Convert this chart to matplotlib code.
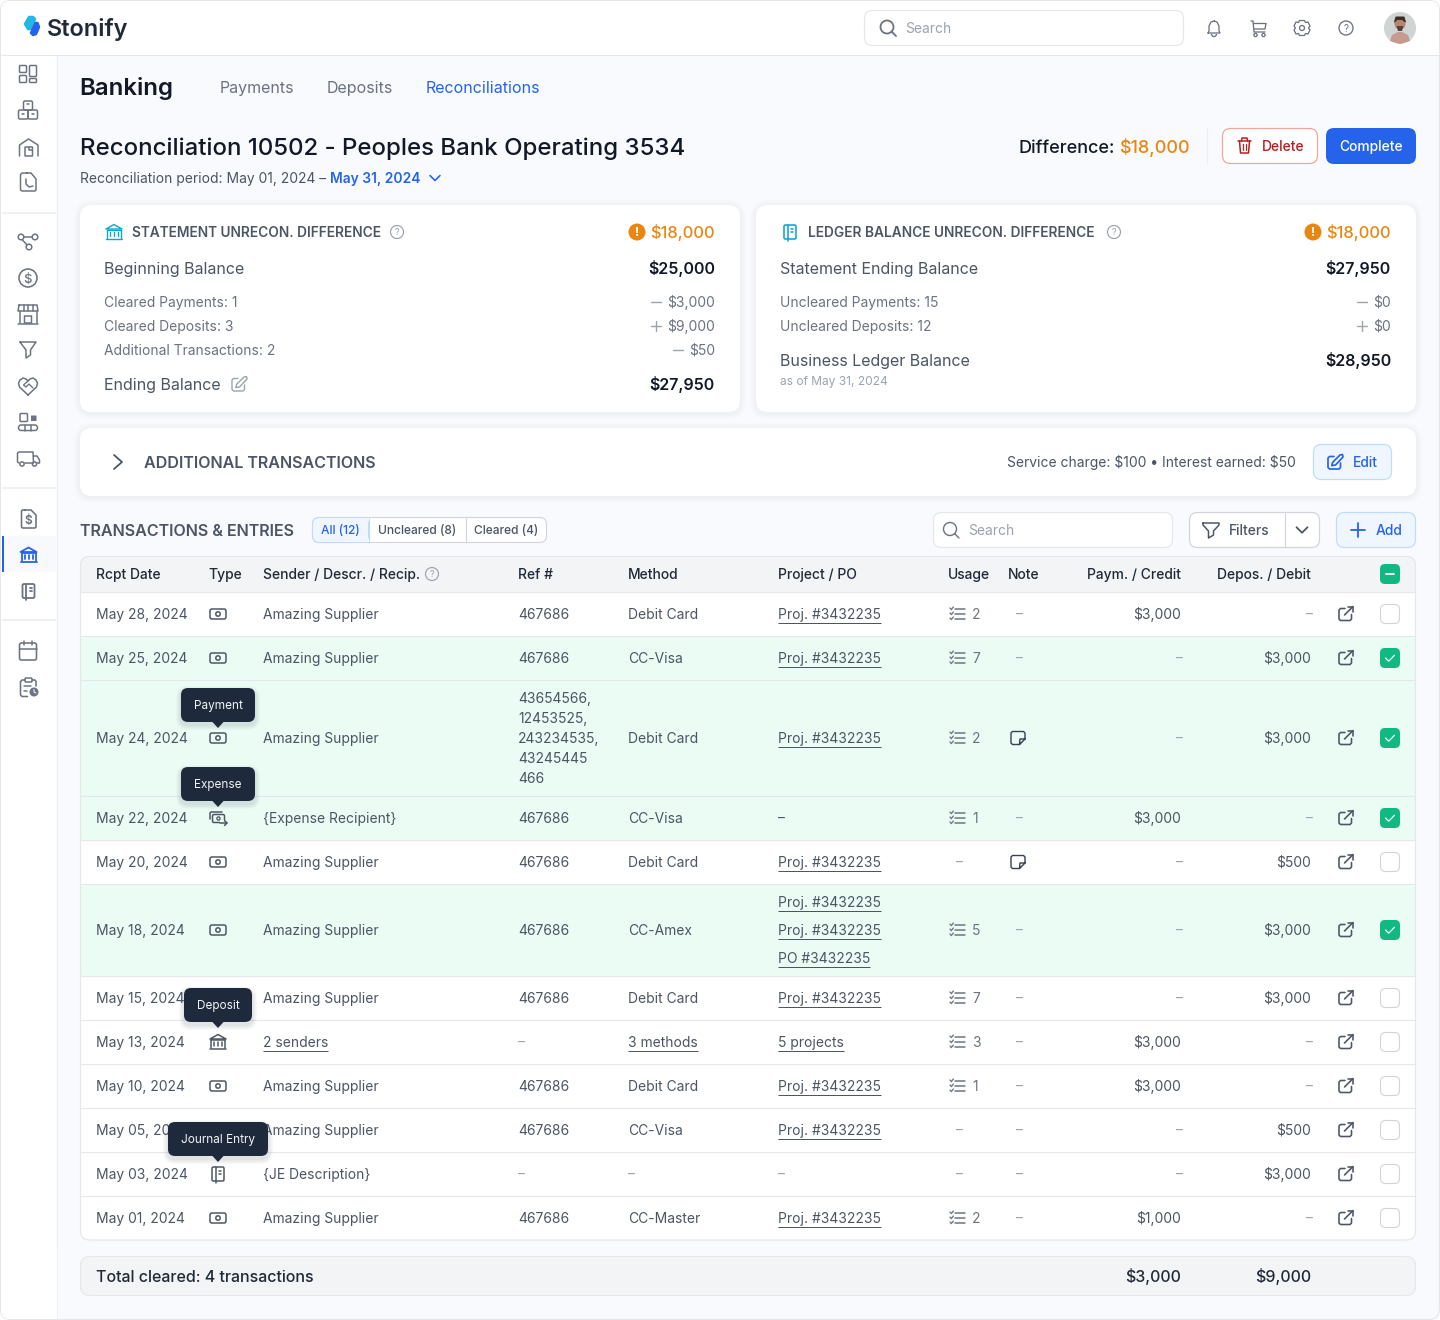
import matplotlib
matplotlib.use("Agg")
import matplotlib.pyplot as plt
from matplotlib.patches import FancyBboxPatch, Circle, Polygon, Arc, Rectangle

# table data
dates = ["May 28, 2024", "May 25, 2024", "May 24, 2024", "May 22, 2024", "May 20, 2024", "May 18, 2024",
         "May 15, 2024", "May 13, 2024", "May 10, 2024", "May 05, 2024", "May 03, 2024", "May 01, 2024"]
types = ["money", "money", "money", "expense", "money", "money", "money", "bank", "money", "money", "journal", "money"]
senders = ["Amazing Supplier", "Amazing Supplier", "Amazing Supplier", "{Expense Recipient}", "Amazing Supplier",
           "Amazing Supplier", "Amazing Supplier", "2 senders", "Amazing Supplier", "Amazing Supplier",
           "{JE Description}", "Amazing Supplier"]
refs = [["467686"], ["467686"], ["43654566,", "12453525,", "243234535,", "43245445", "466"], ["467686"], ["467686"],
        ["467686"], ["467686"], ["–"], ["467686"], ["467686"], ["–"], ["467686"]]
methods = ["Debit Card", "CC-Visa", "Debit Card", "CC-Visa", "Debit Card", "CC-Amex", "Debit Card", "3 methods",
           "Debit Card", "CC-Visa", "–", "CC-Master"]
projects = [["Proj. #3432235"], ["Proj. #3432235"], ["Proj. #3432235"], ["–"], ["Proj. #3432235"],
            ["Proj. #3432235", "Proj. #3432235", "PO #3432235"], ["Proj. #3432235"], ["5 projects"],
            ["Proj. #3432235"], ["Proj. #3432235"], ["–"], ["Proj. #3432235"]]
usage = ["2", "7", "2", "1", "–", "5", "7", "3", "1", "–", "–", "2"]
has_note = [False, False, True, False, True, False, False, False, False, False, False, False]
credits = ["$3,000", "–", "–", "$3,000", "–", "–", "–", "$3,000", "$3,000", "–", "–", "$1,000"]
debits = ["–", "$3,000", "$3,000", "–", "$500", "$3,000", "$3,000", "–", "–", "$500", "$3,000", "–"]
checked = [False, True, True, True, False, True, False, False, False, False, False, False]
headers = ["Rcpt Date", "Type", "Sender / Descr. / Recip.", "Ref #", "Method", "Project / PO", "Usage", "Note"]
tooltips = ["Payment", "Expense", "Deposit", "Journal Entry"]

# colours
INK = "#111827"
DARK = "#1f2937"
BODY = "#4b5563"
MUTED = "#6b7280"
FAINT = "#9ca3af"
LINE = "#e5e7eb"
BLUE = "#2563eb"
ORANGE = "#e8860f"
GREEN = "#10b981"
GREEN_BG = "#ebfcf5"
CYAN = "#0ea5d9"
TIP = "#1e293b"

# autohinted Inter runs a little wide, so the 14px text gets drawn slightly smaller
SZ = 13.85

plt.rcParams["font.family"] = ["Inter", "DejaVu Sans"]

fig = plt.figure(figsize=(14.4, 13.2), dpi=100, facecolor="white")
ax = fig.add_axes([0, 0, 1, 1])
ax.set_xlim(0, 1440)
ax.set_ylim(1320, 0)
ax.axis("off")
renderer = fig.canvas.get_renderer()

order = [10]


def z():
    order[0] += 1
    return order[0]


def box(x0, y0, x1, y1, r=0, fc="none", ec="none", lw=1.0, alpha=None):
    p = FancyBboxPatch((x0, y0), x1 - x0, y1 - y0, boxstyle=f"round,pad=0,rounding_size={r}",
                       fc=fc, ec=ec, lw=lw * 0.72, alpha=alpha, zorder=z())
    ax.add_patch(p)


def shadow(x0, y0, x1, y1, r, steps=5, spread=1.0, drop=2, alpha=0.012):
    for i in range(steps, 0, -1):
        g = i * spread
        box(x0 - g, y0 - g + drop, x1 + g, y1 + g + drop, r + g, fc="#1f2937", alpha=alpha)


def line(pts, c=MUTED, lw=1.5, cap="round"):
    xs = [p[0] for p in pts]
    ys = [p[1] for p in pts]
    ax.plot(xs, ys, color=c, lw=lw * 0.72, solid_capstyle=cap, solid_joinstyle="round", zorder=z())


def circ(x, y, r, fc="none", ec="none", lw=1.5):
    ax.add_patch(Circle((x, y), r, fc=fc, ec=ec, lw=lw * 0.72, zorder=z()))


def poly(pts, fc, ec="none", lw=0):
    ax.add_patch(Polygon(pts, closed=True, fc=fc, ec=ec, lw=lw * 0.72, joinstyle="round", zorder=z()))


def txt(x, y, s, size=SZ, c=BODY, w="normal", ha="left"):
    # y is the visual middle of the lowercase/number line, converted to a baseline
    return ax.text(x, y + size * 0.36, s, fontsize=size * 0.72, color=c, fontweight=w, ha=ha, va="baseline",
                   zorder=z(), parse_math=False)


def linked(x, y, s, size=SZ, c=BODY):
    t = txt(x, y, s, size, c)
    width = t.get_window_extent(renderer).width
    line([(x, y + 8.5), (x + width, y + 8.5)], c=c, lw=1.0, cap="butt")


# icons, all drawn around a centre point
def money_icon(cx, cy, c=BODY):
    box(cx - 8, cy - 5, cx + 8, cy + 5, 2, ec=c, lw=1.5)
    circ(cx, cy, 2.2, ec=c)
    line([(cx - 5, cy), (cx - 4.6, cy)], c)
    line([(cx + 4.6, cy), (cx + 5, cy)], c)


def expense_icon(cx, cy, c=BODY):
    line([(cx - 8, cy + 1), (cx - 8, cy - 5), (cx - 7, cy - 6), (cx + 4, cy - 6)], c)
    box(cx - 5.5, cy - 3.5, cx + 6.5, cy + 4.5, 1.5, ec=c, lw=1.5)
    circ(cx + 0.5, cy + 0.5, 1.6, ec=c, lw=1.3)
    box(cx + 2, cy + 2, cx + 9, cy + 8, 0, fc=GREEN_BG)
    line([(cx + 2, cy + 5), (cx + 9, cy + 5)], c)
    line([(cx + 6.5, cy + 2.5), (cx + 9, cy + 5), (cx + 6.5, cy + 7.5)], c)


def bank_icon(cx, cy, c=BODY, lw=1.5):
    poly([(cx - 8, cy - 3), (cx, cy - 7.5), (cx + 8, cy - 3)], "none", c, lw)
    line([(cx - 7, cy - 2.5), (cx + 7, cy - 2.5)], c, lw)
    for dx in (-4, 0, 4):
        line([(cx + dx, cy), (cx + dx, cy + 4)], c, lw)
    line([(cx - 8, cy + 6.5), (cx + 8, cy + 6.5)], c, lw)
    line([(cx - 7, cy - 2), (cx - 7, cy + 6)], c, lw)
    line([(cx + 7, cy - 2), (cx + 7, cy + 6)], c, lw)


def journal_icon(cx, cy, c=BODY, lw=1.5):
    box(cx - 6, cy - 7, cx + 6, cy + 7, 1.5, ec=c, lw=lw)
    line([(cx - 2.5, cy - 7), (cx - 2.5, cy + 8.5)], c, lw)
    line([(cx + 1, cy - 3.5), (cx + 3, cy - 3.5)], c, lw)
    line([(cx + 1, cy - 0.5), (cx + 3, cy - 0.5)], c, lw)


def check_list_icon(cx, cy, c=MUTED):
    for dy in (-5, 0, 5):
        line([(cx - 2, cy + dy), (cx + 7.5, cy + dy)], c, 1.5)
        line([(cx - 7, cy + dy - 1), (cx - 5.7, cy + dy + 0.6), (cx - 3.6, cy + dy - 2)], c, 1.3)


def link_icon(cx, cy, c=BODY):
    line([(cx - 1, cy - 5.5), (cx - 5.5, cy - 5.5), (cx - 7, cy - 4), (cx - 7, cy + 5), (cx - 5.5, cy + 6.5),
          (cx + 4, cy + 6.5), (cx + 5.5, cy + 5), (cx + 5.5, cy + 0.5)], c, 1.6)
    line([(cx - 1.5, cy + 1), (cx + 7, cy - 7.5)], c, 1.6)
    line([(cx + 2, cy - 7.5), (cx + 7, cy - 7.5), (cx + 7, cy - 2.5)], c, 1.6)


def note_icon(cx, cy, c="#374151"):
    line([(cx + 7, cy + 1), (cx + 7, cy - 5), (cx + 5.5, cy - 6.5), (cx - 5.5, cy - 6.5), (cx - 7, cy - 5),
          (cx - 7, cy + 5), (cx - 5.5, cy + 6.5), (cx + 1.5, cy + 6.5), (cx + 7, cy + 1), (cx + 2, cy + 1),
          (cx + 1.5, cy + 6.5)], c, 1.4)


def help_icon(cx, cy, r=6.5, c=FAINT, lw=1.2):
    circ(cx, cy, r, ec=c, lw=lw)
    txt(cx, cy, "?", r * 1.4, c, ha="center")


def search_icon(cx, cy, r=6, c=MUTED, lw=1.6):
    circ(cx - 1, cy - 1, r, ec=c, lw=lw)
    line([(cx + 3.5, cy + 3.5), (cx + 8, cy + 8)], c, lw)


def chevron_down(cx, cy, c, s=5, lw=1.6):
    line([(cx - s, cy - s / 2), (cx, cy + s / 2), (cx + s, cy - s / 2)], c, lw)


def filter_icon(cx, cy, c=BODY):
    line([(cx - 8, cy - 7), (cx + 8, cy - 7), (cx + 8, cy - 5), (cx + 2.5, cy + 1), (cx + 2.5, cy + 5),
          (cx - 2.5, cy + 8), (cx - 2.5, cy + 1), (cx - 8, cy - 5), (cx - 8, cy - 7)], c, 1.5)


def edit_icon(cx, cy, c, lw=1.5):
    line([(cx - 1, cy - 5.5), (cx - 5.5, cy - 5.5), (cx - 7, cy - 4), (cx - 7, cy + 5.5), (cx - 5.5, cy + 7),
          (cx + 4, cy + 7), (cx + 5.5, cy + 5.5), (cx + 5.5, cy + 1)], c, lw)
    line([(cx - 3, cy + 3.5), (cx - 2.5, cy + 0.5), (cx + 5, cy - 7), (cx + 7.5, cy - 7.5), (cx + 8, cy - 5),
          (cx + 0.5, cy + 3), (cx - 3, cy + 3.5)], c, lw)


def tooltip(cx, y0, y1, half, s):
    shadow(cx - half, y0, cx + half, y1, 7, steps=4, spread=1.2, drop=3, alpha=0.03)
    box(cx - half, y0, cx + half, y1, 7, fc=TIP)
    poly([(cx - 6, y1 - 0.5), (cx + 6, y1 - 0.5), (cx, y1 + 6)], TIP)
    txt(cx, (y0 + y1) / 2, s, 11.8, "#f3f4f6", ha="center")


def card(x0, y0, x1, y1, r=12):
    shadow(x0, y0, x1, y1, r, steps=5, spread=1.2, drop=1, alpha=0.006)
    box(x0, y0, x1, y1, r, fc="white")


# page frame
box(0.5, 0.5, 1439.5, 1319.5, 10, fc="#f9fafd", ec=LINE, lw=1.2)
box(1, 1, 1439, 55, 9, fc="white")
box(1, 20, 56.5, 1319, 9, fc="white")
ax.add_patch(Rectangle((1, 20), 1438, 35, fc="white", ec="none", zorder=z()))
ax.add_patch(Rectangle((30, 1250), 26.5, 69, fc="white", ec="none", zorder=z()))
line([(1, 55.2), (1439, 55.2)], LINE, 1.0, "butt")
line([(56.5, 56), (56.5, 1319)], "#eef0f3", 1.0, "butt")

# top bar
poly([(25, 24), (29, 17), (33, 17), (35, 19), (31, 29), (28, 29)], "#22b8e6", "#22b8e6", 2.5)
poly([(39, 27), (36, 34), (33, 35), (31, 33), (35.5, 23), (37.5, 23)], BLUE, BLUE, 2.5)
txt(47, 27.5, "Stonify", 23.5, "#1f2937", "semibold")
box(864.5, 10.5, 1183.5, 45.5, 8, fc="white", ec=LINE, lw=1.2)
search_icon(888, 28, 6.5, MUTED, 1.8)
txt(905.5, 28, "Search", SZ, FAINT)
# bell
line([(1208, 33), (1209, 31), (1209, 26), (1211, 22), (1214, 21), (1217, 22), (1219, 26), (1219, 31), (1220, 33),
      (1208, 33)], MUTED, 1.3)
ax.add_patch(Arc((1214, 34), 5, 5, theta1=0, theta2=180, ec=MUTED, lw=0.95, zorder=z()))
line([(1214, 19.5), (1214, 21)], MUTED, 1.3)
# cart
line([(1251, 21), (1253, 21), (1254, 32), (1265, 32)], MUTED, 1.3)
line([(1253.5, 23.5), (1266, 23.5), (1265, 29), (1254, 29)], MUTED, 1.3)
circ(1255.5, 35, 1.6, ec=MUTED, lw=1.3)
circ(1263.5, 35, 1.6, ec=MUTED, lw=1.3)
# gear
circ(1302, 28, 2.5, ec=MUTED, lw=1.3)
poly([(1299.5, 20.5), (1304.5, 20.5), (1305.5, 22.5), (1308, 22), (1310, 26), (1308.5, 28), (1310, 30), (1308, 34),
      (1305.5, 33.5), (1304.5, 35.5), (1299.5, 35.5), (1298.5, 33.5), (1296, 34), (1294, 30), (1295.5, 28),
      (1294, 26), (1296, 22), (1298.5, 22.5)], "none", MUTED, 1.3)
help_icon(1346, 28, 7, MUTED, 1.3)
# avatar
circ(1400, 28, 16, fc="#cfd4d4")
circ(1400, 24, 5.5, fc="#b98571")
poly([(1394.5, 22), (1396, 17), (1404, 17), (1405.5, 22), (1402, 19.5), (1397, 19.5)], "#3b2d28", "#3b2d28", 1)
poly([(1396.5, 26), (1403.5, 26), (1402, 31), (1398, 31)], "#57413a")
poly([(1390, 41), (1392, 35), (1398, 32), (1402, 32), (1408, 35), (1410, 41), (1400, 44)], "#c79a8f")

# sidebar icons
S = MUTED
line([(2, 212.5), (56, 212.5)], "#eef0f3", 2, "butt")
line([(2, 487.5), (56, 487.5)], "#eef0f3", 2, "butt")
line([(2, 619.5), (56, 619.5)], "#eef0f3", 2, "butt")
box(19.5, 65.5, 26.5, 72.5, 1, ec=S, lw=1.5)
box(19.5, 75.5, 26.5, 82.5, 1, ec=S, lw=1.5)
box(29.5, 65.5, 36.5, 76.5, 1, ec=S, lw=1.5)
box(29.5, 78.5, 36.5, 82.5, 1, ec=S, lw=1.5)
box(23.5, 101, 32.5, 110, 1.5, ec=S, lw=1.5)
box(18.5, 110, 28, 119, 1.5, ec=S, lw=1.5)
box(28, 110, 37.5, 119, 1.5, ec=S, lw=1.5)
line([(27, 104), (29, 104)], S)
line([(22, 114), (24, 114)], S)
line([(32, 114), (34, 114)], S)
line([(19.5, 156), (19.5, 145), (28.5, 139), (38, 145), (38, 156)], S)
box(25, 147, 32.5, 156, 0.5, ec=S, lw=1.5)
line([(28.5, 147), (28.5, 150), (32, 150)], S)
line([(27, 173), (22, 173), (20.5, 174.5), (20.5, 190), (22, 191), (35, 191), (36, 190), (36, 179), (31, 173), (27, 173)], S)
line([(26, 179), (26, 184), (29, 187), (33, 186)], S)
circ(21, 237, 2.8, ec=S)
circ(35, 237, 2.8, ec=S)
circ(29, 247, 2.8, ec=S)
line([(24, 237), (32, 237)], S)
line([(22.5, 240), (27, 245)], S)
circ(28, 278, 9, ec=S, lw=1.6)
txt(28, 278, "$", 13, S, "medium", ha="center")
line([(19, 305), (37, 305), (38, 311), (18, 311), (19, 305)], S)
for sx in (23.5, 28, 32.5):
    line([(sx, 305), (sx, 311)], S)
line([(19.5, 311), (19.5, 323)], S)
line([(36.5, 311), (36.5, 323)], S)
line([(18, 323.5), (38, 323.5)], S)
box(24.5, 316, 31.5, 323, 0, ec=S, lw=1.5)
line([(20, 342), (36, 342), (30.5, 350), (30.5, 355), (26, 358), (26, 350), (20, 342)], S)
line([(28, 395), (19.5, 387), (18.5, 383), (20, 380), (23, 378), (26, 379), (28, 381), (30, 379), (33, 378), (36, 380),
      (37.5, 383), (36.5, 387), (28, 395)], S)
line([(28, 381), (23.5, 385), (26, 387), (29, 384), (33, 388)], S, 1.3)
box(20, 413.5, 27.5, 421.5, 1, ec=S, lw=1.5)
box(31, 415.5, 36.5, 421, 0.5, fc=S)
box(18.5, 425, 37.5, 430.5, 2.7, ec=S, lw=1.5)
line([(25, 425), (25, 430.5)], S)
line([(31, 425), (31, 430.5)], S)
line([(19, 463), (17.5, 462), (17.5, 453), (19, 452), (33, 452), (33.5, 463), (25, 463)], S)
line([(33.5, 456), (37, 456), (39.5, 460), (39.5, 463), (37, 463)], S)
circ(22, 464, 2.1, ec=S)
circ(34.5, 464, 2.1, ec=S)
line([(25, 510), (22.5, 510), (21.5, 511), (21.5, 527), (22.5, 528), (35, 528), (36, 527), (36, 515), (31, 510), (25, 510)], S, 1.6)
txt(28.8, 520, "$", 12, S, "semibold", ha="center")
ax.add_patch(Rectangle((4, 536), 52, 36, fc="#f7f9fc", ec="none", zorder=z()))
ax.add_patch(Rectangle((1.5, 536), 2.5, 36, fc=BLUE, ec="none", zorder=z()))
bank_icon(28.5, 555, BLUE, 1.8)
journal_icon(28.5, 591, S, 1.8)
box(19.5, 643, 36.5, 660, 2, ec=S, lw=1.6)
line([(19.5, 648.5), (36.5, 648.5)], S)
line([(24, 641), (24, 645)], S)
line([(32, 641), (32, 645)], S)
line([(25, 680), (22, 680), (20.5, 681.5), (20.5, 695), (22, 696.5), (27.5, 696.5)], S, 1.6)
line([(32, 680), (35, 680), (36, 681.5), (36, 686)], S, 1.6)
box(25, 678, 32, 682, 1, ec=S, lw=1.5)
line([(24, 686), (31, 686)], S)
line([(24, 691), (27, 691)], S)
circ(34, 692, 4.5, fc=S)
line([(34, 689.5), (34, 692), (36, 693)], "white", 1.0)

# page header
txt(79.5, 86.5, "Banking", 24, INK, "semibold")
txt(220, 87, "Payments", 16, MUTED)
txt(327, 87, "Deposits", 16, MUTED)
txt(426, 87, "Reconciliations", 16, BLUE)
txt(80, 146.5, "Reconciliation 10502 - Peoples Bank Operating 3534", 24, INK, "medium")
txt(80, 178, "Reconciliation period: May 01, 2024 –", SZ, BODY)
txt(330, 178, "May 31, 2024", SZ, BLUE, "semibold")
chevron_down(435, 178, BLUE)
txt(1019, 147, "Difference:", 18, INK, "medium")
txt(1119, 147, "$18,000", 18, ORANGE, "medium")
line([(1206.5, 128), (1206.5, 164)], "#eceef1", 1.2, "butt")
box(1222.5, 128.5, 1317.5, 163.5, 8, fc="white", ec="#f0a794", lw=1.2)
line([(1238, 141), (1251, 141)], "#b91c1c")
line([(1239.5, 141), (1240.5, 153), (1248.5, 153), (1249.5, 141)], "#b91c1c")
line([(1241.5, 141), (1242, 138), (1247, 138), (1247.5, 141)], "#b91c1c")
line([(1243, 144), (1243, 150)], "#b91c1c", 1.2)
line([(1246, 144), (1246, 150)], "#b91c1c", 1.2)
txt(1262, 146, "Delete", SZ, "#b91c1c", "medium")
box(1326, 128, 1416, 164, 8, fc=BLUE)
txt(1371, 146, "Complete", SZ, "white", "medium", ha="center")

# statement card
card(80, 205, 740, 412)
bank_icon(114, 232, CYAN, 1.4)
txt(132, 232, "STATEMENT UNRECON. DIFFERENCE", 13.7, BODY, "semibold")
help_icon(397, 232)
circ(637, 232, 8.5, fc=ORANGE)
txt(637, 232, "!", 12, "white", "bold", ha="center")
txt(715, 232, "$18,000", 16.5, ORANGE, "medium", ha="right")
txt(104, 268, "Beginning Balance", 16, BODY)
txt(715, 268, "$25,000", 16, INK, "semibold", ha="right")
txt(104, 302, "Cleared Payments: 1", SZ, MUTED)
txt(715, 302, "$3,000", SZ, MUTED, ha="right")
line([(651, 302), (661, 302)], FAINT, 1.4)
txt(104, 326, "Cleared Deposits: 3", SZ, MUTED)
txt(715, 326, "$9,000", SZ, MUTED, ha="right")
line([(651, 326), (661, 326)], FAINT, 1.4)
line([(656, 321), (656, 331)], FAINT, 1.4)
txt(104, 350, "Additional Transactions: 2", SZ, MUTED)
txt(715, 350, "$50", SZ, MUTED, ha="right")
line([(673, 350), (683, 350)], FAINT, 1.4)
txt(104, 384, "Ending Balance", 16, BODY)
edit_icon(239, 384, FAINT, 1.4)
txt(715, 384, "$27,950", 16, INK, "semibold", ha="right")

# ledger card
card(756, 205, 1416, 412)
journal_icon(790, 232, CYAN, 1.6)
txt(808, 232, "LEDGER BALANCE UNRECON. DIFFERENCE", 13.7, BODY, "semibold")
help_icon(1114, 232)
circ(1313, 232, 8.5, fc=ORANGE)
txt(1313, 232, "!", 12, "white", "bold", ha="center")
txt(1391, 232, "$18,000", 16.5, ORANGE, "medium", ha="right")
txt(780, 268, "Statement Ending Balance", 16, BODY)
txt(1391, 268, "$27,950", 16, INK, "semibold", ha="right")
txt(780, 302, "Uncleared Payments: 15", SZ, MUTED)
txt(1391, 302, "$0", SZ, MUTED, ha="right")
line([(1357, 302), (1367, 302)], FAINT, 1.4)
txt(780, 326, "Uncleared Deposits: 12", SZ, MUTED)
txt(1391, 326, "$0", SZ, MUTED, ha="right")
line([(1357, 326), (1367, 326)], FAINT, 1.4)
line([(1362, 321), (1362, 331)], FAINT, 1.4)
txt(780, 360, "Business Ledger Balance", 16, BODY)
txt(1391, 360, "$28,950", 16, INK, "semibold", ha="right")
txt(780, 381, "as of May 31, 2024", 12, FAINT)

# additional transactions
card(80, 428, 1416, 496)
line([(114, 455), (122, 462), (114, 469)], BODY, 1.8)
txt(144, 462, "ADDITIONAL TRANSACTIONS", 16.1, BODY, "semibold")
txt(1296, 462, "Service charge: $100 • Interest earned: $50", SZ, BODY, ha="right")
box(1313.5, 444.5, 1391.5, 479.5, 8, fc="#eff6ff", ec="#bfdbfe", lw=1.2)
edit_icon(1335, 462, BLUE, 1.7)
txt(1353, 462, "Edit", SZ, BLUE, "medium")

# table toolbar
txt(80, 530, "TRANSACTIONS & ENTRIES", 16.1, BODY, "semibold")
box(312.5, 517.5, 546.5, 542.5, 7, fc="white", ec="#d1d5db", lw=1.1)
box(312.5, 517.5, 368.5, 542.5, 7, fc="#eff6ff", ec="#bfdbfe", lw=1.1)
ax.add_patch(Rectangle((345, 518), 23, 24, fc="#eff6ff", ec="none", zorder=z()))
line([(368.5, 517.5), (368.5, 542.5)], "#bfdbfe", 1.1, "butt")
line([(465.5, 517.5), (465.5, 542.5)], "#d1d5db", 1.1, "butt")
txt(340.5, 530, "All (12)", 12, BLUE, "medium", ha="center")
txt(417, 530, "Uncleared (8)", 12, BODY, "medium", ha="center")
txt(506, 530, "Cleared (4)", 12, BODY, "medium", ha="center")
box(933.5, 512.5, 1172.5, 547.5, 8, fc="white", ec=LINE, lw=1.2)
search_icon(951, 530, 6.5, MUTED, 1.4)
txt(968.5, 530, "Search", SZ, FAINT)
box(1189.5, 512.5, 1319.5, 547.5, 8, fc="white", ec="#d1d5db", lw=1.2)
line([(1284.5, 513), (1284.5, 547)], "#d1d5db", 1.2, "butt")
filter_icon(1211, 530)
txt(1229, 530, "Filters", SZ, BODY, "medium")
chevron_down(1302, 530, BODY, 5.5, 1.8)
box(1336.5, 512.5, 1415.5, 547.5, 8, fc="#eff6ff", ec="#bfdbfe", lw=1.2)
line([(1351, 530), (1365, 530)], BLUE, 1.8)
line([(1358, 523), (1358, 537)], BLUE, 1.8)
txt(1376, 530, "Add", SZ, BLUE, "medium")

# table, row heights grow with the number of stacked lines
HEAD_TOP = 557
ROW_TOP = 592
col_x = [96, 208, 263, 518, 628, 778, 948, 1008]

box(81, HEAD_TOP, 1415, 600, 8, fc="#f3f4f6")
ax.add_patch(Rectangle((81, 575), 1334, 17, fc="#f3f4f6", ec="none", zorder=z()))
ax.add_patch(Rectangle((81, 592), 1334, 640, fc="white", ec="none", zorder=z()))
box(81, 1200, 1415, 1240, 8, fc="white")
for x, h in zip(col_x, headers):
    txt(x, 574, h, SZ, DARK, "medium")
help_icon(432, 574)
txt(1181, 574, "Paym. / Credit", SZ, DARK, "medium", ha="right")
txt(1311, 574, "Depos. / Debit", SZ, DARK, "medium", ha="right")
box(1380, 564, 1400, 584, 5, fc=GREEN)
line([(1386, 574), (1394, 574)], "white", 1.8)

y = ROW_TOP
centers = []
for i in range(len(dates)):
    if len(refs[i]) > 1:
        h = 116
    elif len(projects[i]) > 1:
        h = 92
    else:
        h = 44
    mid = y + h / 2
    centers.append(mid)
    if checked[i]:
        ax.add_patch(Rectangle((81, y), 1334, h, fc=GREEN_BG, ec="none", zorder=z()))
    line([(81, y - 0.4), (1415, y - 0.4)], LINE, 1.1, "butt")

    txt(96, mid, dates[i], SZ, BODY)
    if types[i] == "money":
        money_icon(218, mid)
    elif types[i] == "expense":
        expense_icon(218, mid)
    elif types[i] == "bank":
        bank_icon(218, mid)
    else:
        journal_icon(218, mid)

    if senders[i] == "2 senders":
        linked(263, mid, senders[i])
    else:
        txt(263, mid, senders[i], SZ, BODY)

    for k, r in enumerate(refs[i]):
        if r == "–":
            txt(518, mid, r, SZ, FAINT)
        else:
            txt(518, mid + (k - (len(refs[i]) - 1) / 2) * 20, r, SZ, BODY)

    if methods[i] == "3 methods":
        linked(628, mid, methods[i])
    elif methods[i] == "–":
        txt(628, mid, methods[i], SZ, FAINT)
    else:
        txt(628, mid, methods[i], SZ, BODY)

    for k, p in enumerate(projects[i]):
        if p == "–":
            txt(778, mid, p, SZ, BODY if checked[i] else FAINT)
        else:
            linked(778, mid + (k - (len(projects[i]) - 1) / 2) * 28, p)

    if usage[i] == "–":
        txt(959, mid, "–", SZ, FAINT, ha="center")
    else:
        check_list_icon(957, mid)
        txt(972, mid, usage[i], SZ, MUTED)

    if has_note[i]:
        note_icon(1018, mid)
    else:
        txt(1019, mid, "–", SZ, FAINT, ha="center")

    if credits[i] == "–":
        txt(1183, mid, "–", SZ, FAINT, ha="right")
    else:
        txt(1181, mid, credits[i], SZ, BODY, ha="right")
    if debits[i] == "–":
        txt(1313, mid, "–", SZ, FAINT, ha="right")
    else:
        txt(1311, mid, debits[i], SZ, BODY, ha="right")

    link_icon(1346, mid)
    if checked[i]:
        box(1380, mid - 10, 1400, mid + 10, 5, fc=GREEN)
        line([(1385.5, mid), (1388.8, mid + 3.2), (1394.5, mid - 2.8)], "white", 1.2)
    else:
        box(1380.5, mid - 9.5, 1399.5, mid + 9.5, 5, fc="white", ec="#d1d5db", lw=1.1)
    y += h

# table outline goes on top of the row fills
box(80.5, HEAD_TOP - 0.5, 1415.5, 1240, 9, ec=LINE, lw=1.2)

# tooltips sit over the Type column
tip_rows = [2, 3, 7, 10]
tip_half = [37, 37, 34, 50]
tip_gap = [16, 17, 20, 18]
for row, half, gap, label in zip(tip_rows, tip_half, tip_gap, tooltips):
    y1 = centers[row] - gap
    tooltip(218, y1 - 34, y1, half, label)

# total bar
box(80.5, 1256.5, 1415.5, 1295.5, 9, fc="#f3f4f6", ec=LINE, lw=1.1)
txt(96, 1276, "Total cleared: 4 transactions", 16, DARK, "medium")
txt(1181, 1276, "$3,000", 16, DARK, "medium", ha="right")
txt(1311, 1276, "$9,000", 16, DARK, "medium", ha="right")

fig.savefig("out.png", dpi=100, facecolor="white")
